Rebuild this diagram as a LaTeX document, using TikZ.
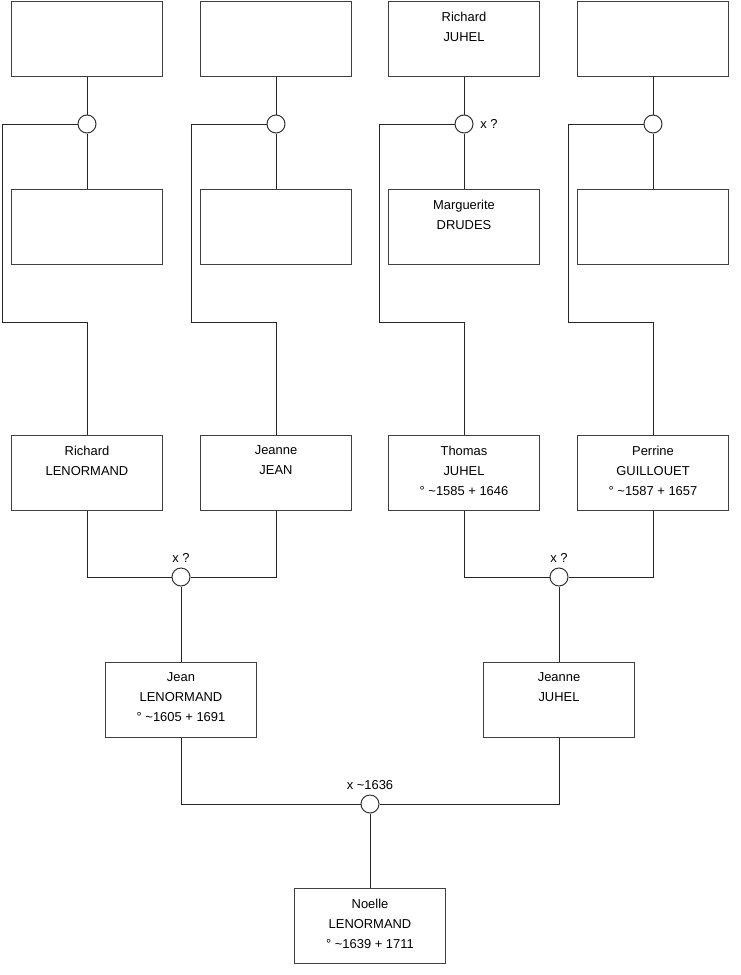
\documentclass[tikz,border=0pt]{standalone}
\usepackage{fontspec}
\setmainfont{Liberation Sans}
\begin{document}
\begin{tikzpicture}[x=0.75pt,y=-0.75pt,
  pbox/.style={draw=black!75,line width=0.75pt,minimum width=151*0.75pt,minimum height=75*0.75pt,inner sep=0pt,fill=white},
  ptext/.style={anchor=north,inner sep=0pt,align=center,font=\fontsize{9.7}{15}\selectfont,yshift=-8.2pt},
  union/.style={draw=black!80,circle,line width=0.75pt,minimum size=18*0.75pt,inner sep=0pt,fill=white},
  conn/.style={draw=black!85,line width=0.75pt},
  lbl/.style={font=\fontsize{9.7}{11}\selectfont,inner sep=0pt}]
\useasboundingbox (0,0) rectangle (740,975);
% row 1
\node[pbox] (a1) at (87,38.5) {};
\node[pbox] (b1) at (276,38.5) {};
\node[pbox] (c1) at (464,38.5) {};
\node[ptext] at (c1.north) {Richard\\JUHEL};
\node[pbox] (d1) at (653,38.5) {};
% row 2
\node[pbox] (a2) at (87,227) {};
\node[pbox] (b2) at (276,227) {};
\node[pbox] (c2) at (464,227) {};
\node[ptext] at (c2.north) {Marguerite\\DRUDES};
\node[pbox] (d2) at (653,227) {};
% row 3
\node[pbox] (a3) at (87,472.5) {};
\node[ptext] at (a3.north) {Richard\\LENORMAND};
\node[pbox] (b3) at (276,472.5) {};
\node[ptext] at (b3.north) {Jeanne\\JEAN};
\node[pbox] (c3) at (464,472.5) {};
\node[ptext] at (c3.north) {Thomas\\JUHEL\\° \textasciitilde1585 + 1646};
\node[pbox] (d3) at (653,472.5) {};
\node[ptext] at (d3.north) {Perrine\\GUILLOUET\\° \textasciitilde1587 + 1657};
% row 4
\node[pbox] (e4) at (181,699.5) {};
\node[ptext] at (e4.north) {Jean\\LENORMAND\\° \textasciitilde1605 + 1691};
\node[pbox] (f4) at (559,699.5) {};
\node[ptext] at (f4.north) {Jeanne\\JUHEL};
% row 5
\node[pbox] (g5) at (370,926) {};
\node[ptext] at (g5.north) {Noelle\\LENORMAND\\° \textasciitilde1639 + 1711};
% unions
\node[union] (ua) at (87,124) {};
\node[union] (ub) at (276,124) {};
\node[union] (uc) at (464,124) {};
\node[union] (ud) at (653,124) {};
\node[union] (ue) at (181,577) {};
\node[union] (uf) at (559,577) {};
\node[union] (ug) at (370,804) {};
\node[lbl,anchor=west] at (480,124) {x ?};
\node[lbl] at (181,558) {x ?};
\node[lbl] at (559,558) {x ?};
\node[lbl] at (370,785) {x \textasciitilde1636};
% coordinates
\foreach \n/\x in {a/2,b/191,c/379,d/568}{
  \coordinate (\n t) at (\x,124);
  \coordinate (\n m) at (\x,322);
}
% connectors top
\foreach \n in {a,b,c,d}{
  \draw[conn] (\n1.south) -- (u\n.north);
  \draw[conn] (u\n.south) -- (\n2.north);
  \draw[conn] (u\n.west) -- (\n t) -- (\n m) -- (\n m -| \n3.north) -- (\n3.north);
}
% middle
\draw[conn] (a3.south) -- (a3.south |- ue.west) -- (ue.west);
\draw[conn] (b3.south) -- (b3.south |- ue.east) -- (ue.east);
\draw[conn] (ue.south) -- (e4.north);
\draw[conn] (c3.south) -- (c3.south |- uf.west) -- (uf.west);
\draw[conn] (d3.south) -- (d3.south |- uf.east) -- (uf.east);
\draw[conn] (uf.south) -- (f4.north);
% bottom
\draw[conn] (e4.south) -- (e4.south |- ug.west) -- (ug.west);
\draw[conn] (f4.south) -- (f4.south |- ug.east) -- (ug.east);
\draw[conn] (ug.south) -- (g5.north);
\end{tikzpicture}
\end{document}
